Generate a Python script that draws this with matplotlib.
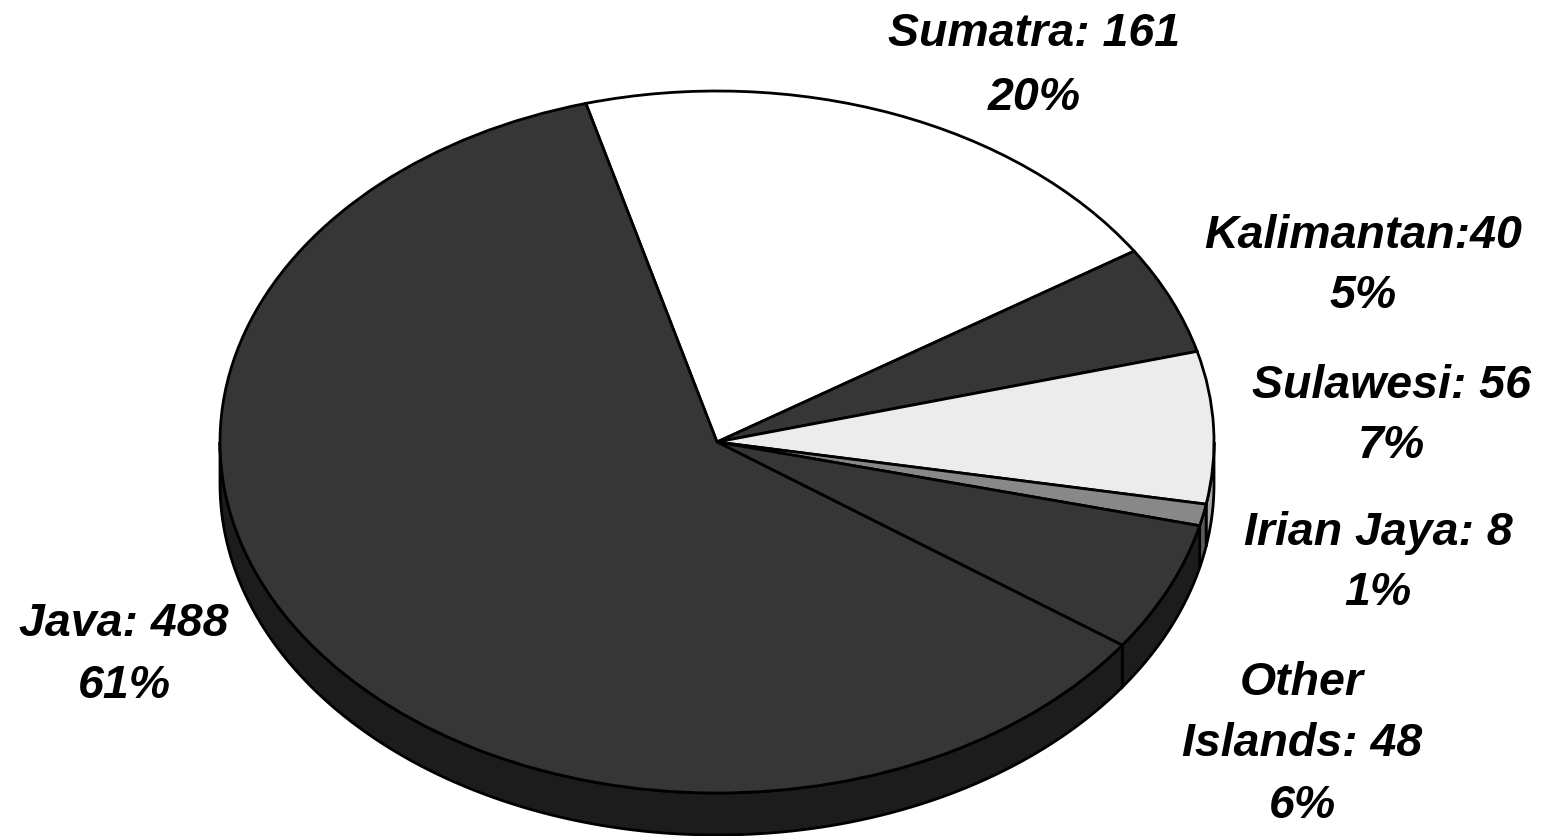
import numpy as np
import matplotlib
matplotlib.use("Agg")
import matplotlib.pyplot as plt
from matplotlib.patches import Polygon

# ---- data ----
categories = ["Sumatra", "Kalimantan", "Sulawesi", "Irian Jaya", "Other Islands", "Java"]
values = [161, 40, 56, 8, 48, 488]
percents = ["20%", "5%", "7%", "1%", "6%", "61%"]
label_lines = [
    ["Sumatra: 161", "20%"],
    ["Kalimantan:40", "5%"],
    ["Sulawesi: 56", "7%"],
    ["Irian Jaya: 8", "1%"],
    ["Other", "Islands: 48", "6%"],
    ["Java: 488", "61%"],
]

# ---- styles ----
top_colors = ["#ffffff", "#363636", "#ececec", "#888888", "#363636", "#363636"]
side_colors = ["#c8c8c8", "#1c1c1c", "#a8a8a8", "#5a5a5a", "#1c1c1c", "#1c1c1c"]
W, H = 1550, 836
cx, cy = 717, 442          # pie centre in pixels (from top)
rx, ry = 497, 351          # ellipse radii in pixels
depth = 42 / ry            # thickness of 3-D side in data units
start = 105.3

fig = plt.figure(figsize=(W / 100, H / 100), dpi=100)
ax = fig.add_axes([0, 0, 1, 1])

# --- 3-D side walls (front half only) ---
total = float(sum(values))
a0 = start
for v, sc in zip(values, side_colors):
    a1 = a0 - 360.0 * v / total
    lo, hi = a1, a0
    for off in (-720, -360, 0, 360):
        flo, fhi = -180 + off, 0 + off
        s, e = max(lo, flo), min(hi, fhi)
        if e > s:
            t = np.radians(np.linspace(s, e, 120))
            xs = np.cos(t)
            ys = np.sin(t)
            pts = np.concatenate([
                np.column_stack([xs, ys]),
                np.column_stack([xs[::-1], ys[::-1] - depth]),
            ])
            ax.add_patch(Polygon(pts, closed=True, facecolor=sc,
                                 edgecolor="black", linewidth=2.0, zorder=1))
    a0 = a1

# --- top face ---
ax.pie(values, startangle=start, counterclock=False, colors=top_colors,
       radius=1, center=(0, 0),
       wedgeprops=dict(edgecolor="black", linewidth=2.0, zorder=2))

ax.set_aspect("auto")
ax.set_xlim(-cx / rx, (W - cx) / rx)
ax.set_ylim(-(H - cy) / ry, cy / ry)
ax.axis("off")

# --- labels ---
label_x = [1034, 1363, 1391, 1378, 1302, 124]
label_baselines = [[46, 110], [248, 308], [398, 458], [545, 605],
                   [695, 756, 818], [636, 698]]
for lines, x, bls in zip(label_lines, label_x, label_baselines):
    for line, b in zip(lines, bls):
        fig.text(x / W, 1 - b / H, line, ha="center", va="baseline",
                 fontsize=33.5, fontweight="bold", fontstyle="italic",
                 family=["Liberation Sans", "DejaVu Sans"], color="black")

fig.savefig("out.png", dpi=100, facecolor="white")
